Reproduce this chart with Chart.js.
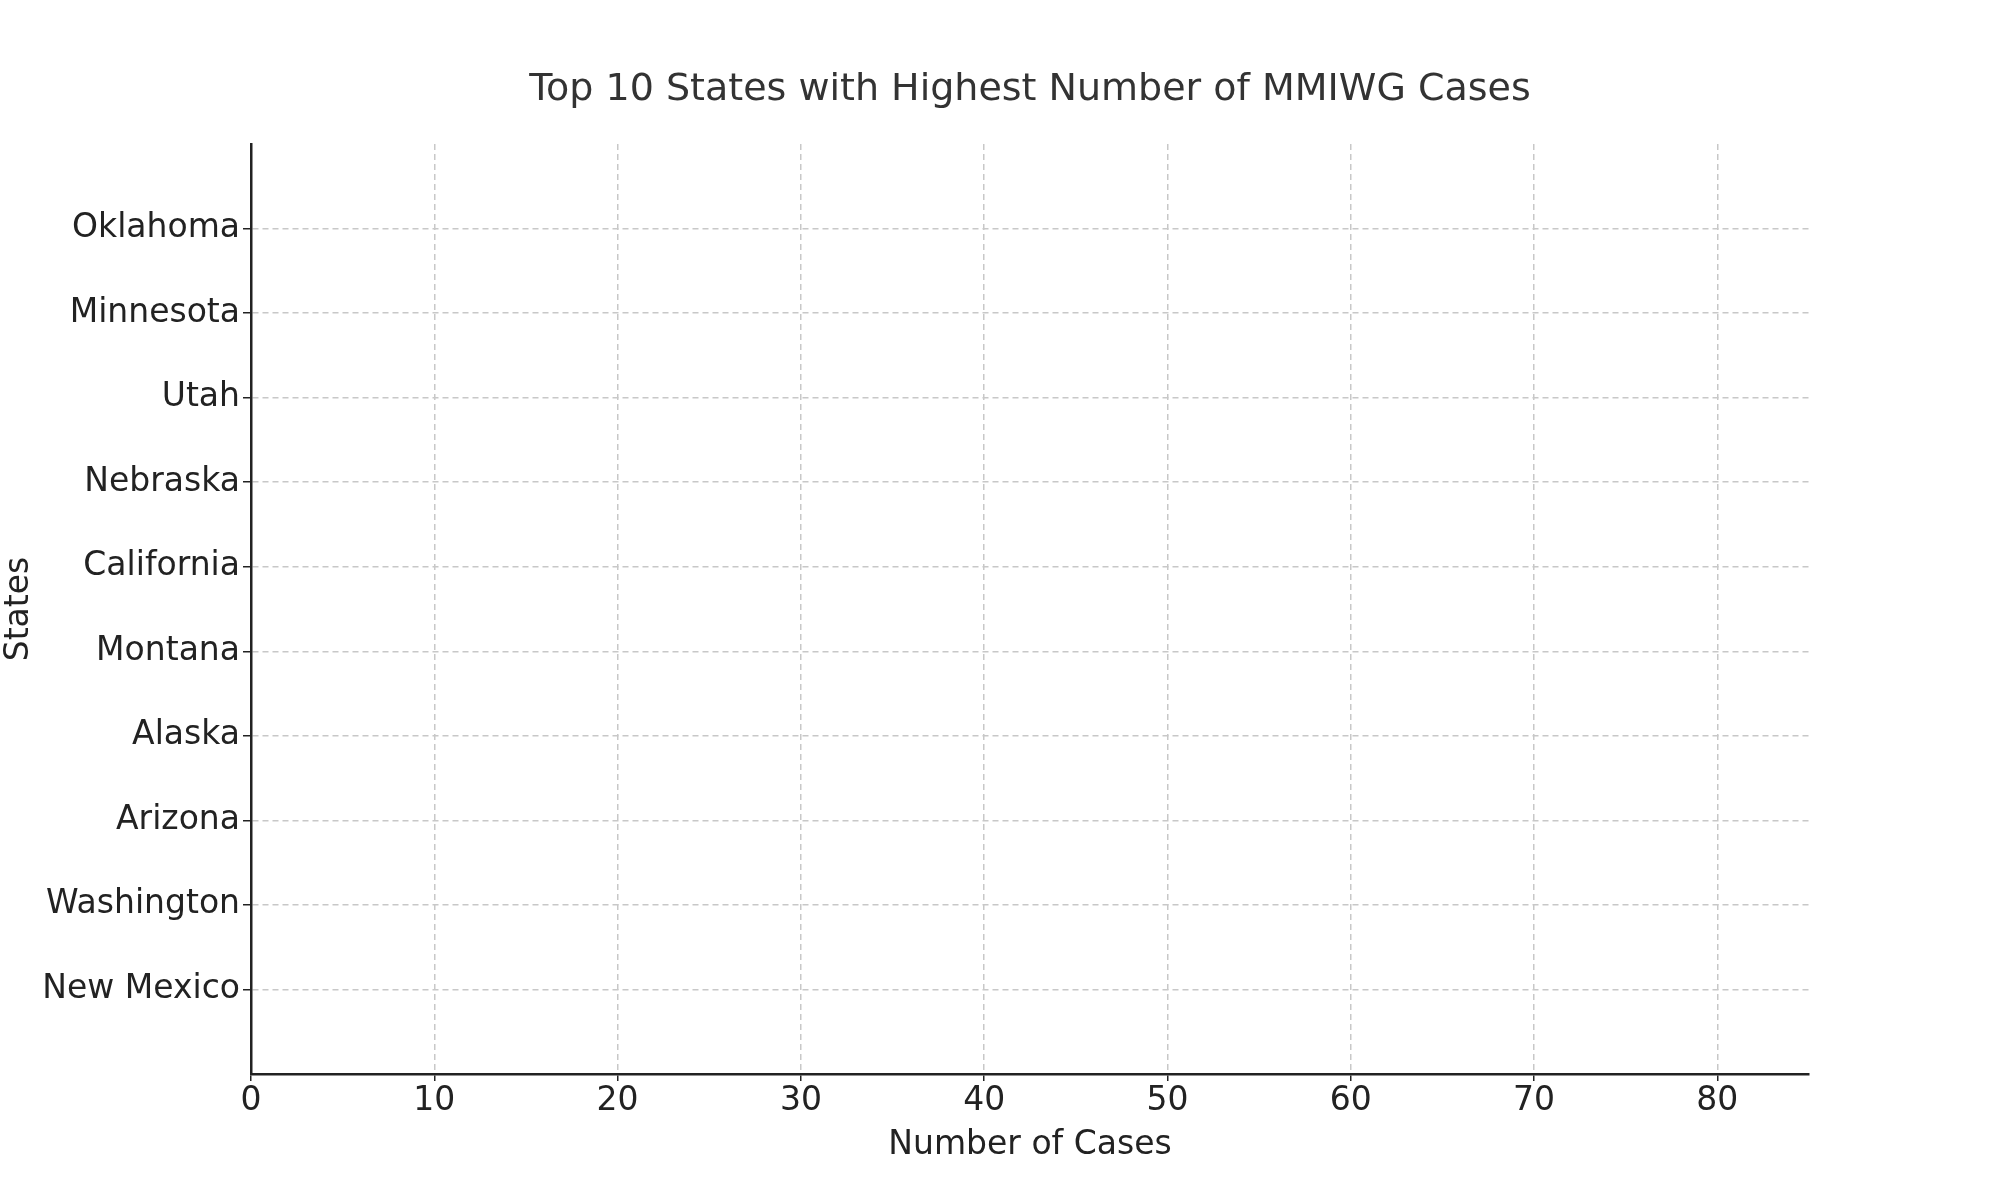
<!DOCTYPE html>
<html><head><meta charset="utf-8">
<script src="https://cdn.jsdelivr.net/npm/chart.js@4"></script>
<style>html,body{margin:0;padding:0;background:#fff}#w{width:2000px;height:1200px}</style>
</head><body><div id="w"><canvas id="c"></canvas></div>
<script>
const states = ['Oklahoma','Minnesota','Utah','Nebraska','California','Montana','Alaska','Arizona','Washington','New Mexico'];
const cases = [0,0,0,0,0,0,0,0,0,0];
const xTicks = [0,10,20,30,40,50,60,70,80];
const titleText = 'Top 10 States with Highest Number of MMIWG Cases';

const labels = [''].concat(states, ['']);
const data = [null].concat(cases, [null]);
const F = 'DejaVu Sans';
const titlePlugin = {
  id: 'centerTitle',
  afterDraw(chart) {
    const { ctx, chartArea } = chart;
    ctx.save();
    ctx.font = '38px "' + F + '"';
    ctx.fillStyle = '#333';
    ctx.textAlign = 'center';
    ctx.textBaseline = 'middle';
    ctx.fillText(titleText, (chartArea.left + chartArea.right) / 2, 90);
    ctx.restore();
  }
};
new Chart(document.getElementById('c'), {
  type: 'bar',
  data: { labels, datasets: [{ data, backgroundColor: '#4c72b0', barPercentage: 0.8, categoryPercentage: 1 }] },
  options: {
    indexAxis: 'y', responsive: true, maintainAspectRatio: false, animation: false,
    layout: { padding: { left: 0, right: 191, top: 144, bottom: 0 } },
    plugins: { legend: { display: false }, tooltip: { enabled: false }, title: { display: false } },
    scales: {
      x: {
        type: 'linear', min: 0, max: 85,
        afterBuildTicks: s => { s.ticks = xTicks.map(v => ({ value: v })); },
        afterFit: s => { s.height = 126; },
        grid: { color: '#c8c8c8', lineWidth: 1.5, tickColor: '#222', tickLength: 7 },
        border: { color: '#222', width: 2.5, dash: [6, 4] },
        ticks: { color: '#222', font: { family: F, size: 33 }, padding: 1, maxRotation: 0 },
        title: { display: true, text: 'Number of Cases', color: '#222', font: { family: F, size: 33 }, padding: { top: 0, bottom: 35 } }
      },
      y: {
        type: 'category', offset: false,
        afterFit: s => { s.width = 251; },
        grid: { offset: false, color: c => (c.tick && c.tick.label === '') ? 'rgba(0,0,0,0)' : '#c8c8c8', lineWidth: 1.5, tickColor: c => (c.tick && c.tick.label === '') ? 'rgba(0,0,0,0)' : '#222', tickLength: 8 },
        border: { color: '#222', width: 2.5, dash: [6, 4] },
        ticks: { color: '#222', font: { family: F, size: 33 }, padding: 3, autoSkip: false },
        title: { display: true, text: 'States', color: '#222', font: { family: F, size: 33 }, padding: 0 }
      }
    }
  },
  plugins: [titlePlugin]
});
</script></body></html>
